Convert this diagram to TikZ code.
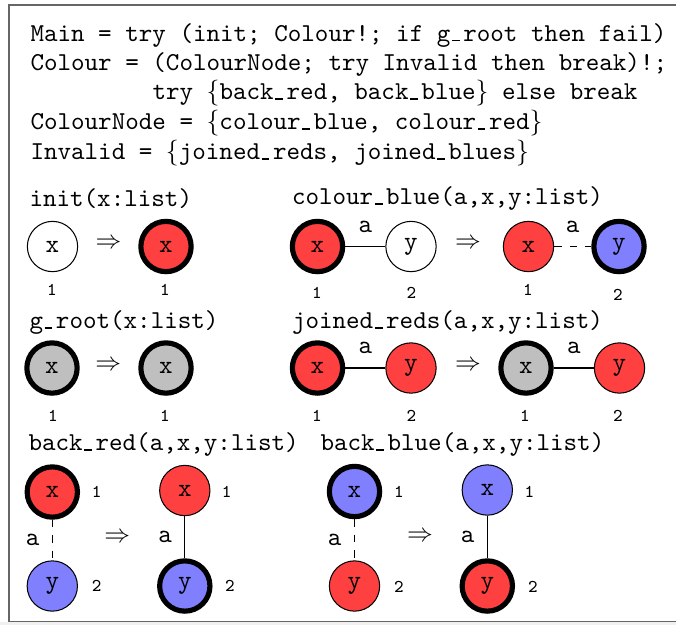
\documentclass[tikz,border=0pt]{standalone}

% underscore drawn as a low rule, as in the OT1 typewriter setting
\newcommand{\us}{\makebox[.5em][l]{\kern.06em\vbox{\hrule width.3em}}}

\tikzset{
  gnode/.style={circle, draw, minimum size=19.5pt, inner sep=0pt, font=\ttfamily},
  rootnode/.style={gnode, line width=2pt},
  rednode/.style={fill=red!75},
  bluenode/.style={fill=blue!50},
  greynode/.style={fill=gray!50},
  idlabel/.style={font=\ttfamily\scriptsize, inner sep=0pt},
  edgelabel/.style={font=\ttfamily, above=2pt},
  vedgelabel/.style={font=\ttfamily, left=1.5pt},
  rulename/.style={font=\ttfamily, anchor=base west, inner sep=0pt},
  implies/.style={inner sep=0pt}
}

\begin{document}
\begin{tikzpicture}[x=0.3876pt, y=-0.3876pt] % pixel grid of the screenshot
    % page and frame (right side runs off the page)
    \useasboundingbox (0,0) rectangle (676,625);
    \clip (0,0) rectangle (676,625);
    \fill[gray!12] (0,622) rectangle (676,625);
    \draw[black!60] (9,5) rectangle (700,621.5);

    % program
    \node[rulename] (prog1) at (30,41) {Main = try (init; Colour!; if g\us root then fail)};
    \node[rulename] (prog2) at (30,70) {Colour = (ColourNode; try Invalid then break)!;};
    \node[rulename] (prog3) at (152,99.5) {try $\{$back\us red, back\us blue$\}$ else break};
    \node[rulename] (prog4) at (30,129.5) {ColourNode = $\{$colour\us blue, colour\us red$\}$};
    \node[rulename] (prog5) at (30,159.5) {Invalid = $\{$joined\us reds, joined\us blues$\}$};

    % init
    \node[rulename] (init) at (29,206.5) {init(x:list)};
    \node[gnode, fill=white] (i1) at (52.5,246.5) {x};
    \node[implies] (i2) at (108.5,243.7) {$\Rightarrow$};
    \node[rootnode, rednode] (i3) at (166,246.5) {x};

    % colour_blue
    \node[rulename] (cblue) at (291.5,204.5) {colour\us blue(a,x,y:list)};
    \node[rootnode, rednode] (cb1) at (317.5,246.5) {x};
    \node[gnode, fill=white] (cb2) at (411,246.5) {y};
    \node[implies] (cb3) at (468,243.5) {$\Rightarrow$};
    \node[gnode, rednode] (cb4) at (528.5,246.5) {x};
    \node[rootnode, bluenode] (cb5) at (619,246.5) {y};
    \draw (cb1) -- node[edgelabel] (cba1) {a} (cb2);
    \draw[dashed] (cb4) -- node[edgelabel] (cba2) {a} (cb5);

    % g_root
    \node[rulename] (groot) at (29,328.5) {g\us root(x:list)};
    \node[rootnode, greynode] (g1) at (52,368) {x};
    \node[implies] (g2) at (108.3,366) {$\Rightarrow$};
    \node[rootnode, greynode] (g3) at (166,368) {x};

    % joined_reds
    \node[rulename] (jreds) at (291.5,328.5) {joined\us reds(a,x,y:list)};
    \node[rootnode, rednode] (jr1) at (317.5,368) {x};
    \node[gnode, rednode] (jr2) at (411,368) {y};
    \node[implies] (jr3) at (468,366) {$\Rightarrow$};
    \node[rootnode, greynode] (jr4) at (526,368) {x};
    \node[gnode, rednode] (jr5) at (619.5,368) {y};
    \draw (jr1) -- node[edgelabel] (jra1) {a} (jr2);
    \draw (jr4) -- node[edgelabel] (jra2) {a} (jr5);

    % back_red
    \node[rulename] (bred) at (28,450.5) {back\us red(a,x,y:list)};
    \node[rootnode, rednode] (br1) at (52.3,492) {x};
    \node[gnode, bluenode] (br2) at (52.3,586) {y};
    \node[implies] (br3) at (117.3,537.3) {$\Rightarrow$};
    \node[gnode, rednode] (br4) at (184.8,490.5) {x};
    \node[rootnode, bluenode] (br5) at (184.8,586) {y};
    \draw[dashed] (br1) -- node[vedgelabel] (bra1) {a} (br2);
    \draw (br4) -- node[vedgelabel] (bra2) {a} (br5);

    % back_blue
    \node[rulename] (bblue) at (320,450.5) {back\us blue(a,x,y:list)};
    \node[rootnode, bluenode] (bb1) at (354.5,491.5) {x};
    \node[gnode, rednode] (bb2) at (354.5,586) {y};
    \node[implies] (bb3) at (420,536.7) {$\Rightarrow$};
    \node[gnode, bluenode] (bb4) at (487.3,490) {x};
    \node[rootnode, rednode] (bb5) at (487.3,586) {y};
    \draw[dashed] (bb1) -- node[vedgelabel] (bba1) {a} (bb2);
    \draw (bb4) -- node[vedgelabel] (bba2) {a} (bb5);

    % node identifiers
    \foreach \x/\y/\t [count=\k] in {52/290/1, 165/290/1,
        317/293/1, 411.5/293/2, 528/290/1, 618/295/2,
        53/416/1, 165/416/1,
        317/416/1, 411.5/416/2, 525/416/1, 618/416/2,
        96.7/492.3/1, 96.7/586/2, 226.7/492.3/1, 230/586/2,
        399/491.7/1, 399/586.5/2, 529.5/491.7/1, 533/586.5/2} {
        \node[idlabel] (id\k) at (\x,\y) {\t};
    }
\end{tikzpicture}
\end{document}
